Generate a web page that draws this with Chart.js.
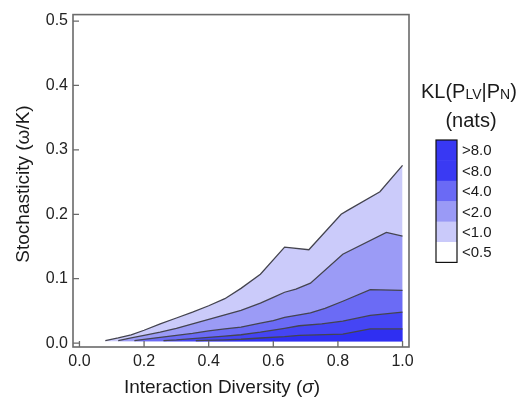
<!DOCTYPE html>
<html><head><meta charset="utf-8">
<script src="https://cdn.jsdelivr.net/npm/chart.js@4"></script>
<style>html,body{margin:0;padding:0;background:#fff}#wrap{width:522px;height:403px;position:relative}</style>
</head><body><div id="wrap"><canvas id="c" width="522" height="403"></canvas></div>
<script>
const xTicks=[0,0.2,0.4,0.6,0.8,1.0];
const yTicks=[0,0.1,0.2,0.3,0.4,0.5];
const levelLabels=['>8.0','<8.0','<4.0','<2.0','<1.0','<0.5'];
const bandColors=['#2f2ff2','#4545f4','#6b6bf5','#9b9bf6','#cbcbfa'];
const legendColors=['#3838f3','#3a3af3','#6a6af5','#9a9af6','#cacafa','#ffffff'];
// contour KL = 0.5
const c05x=[0.08,0.12,0.16,0.2,0.25,0.3,0.35,0.4,0.45,0.5,0.56,0.635,0.71,0.81,0.83,0.93,1.0];
const c05y=[0.004,0.008,0.013,0.02,0.03,0.039,0.048,0.058,0.069,0.085,0.107,0.149,0.145,0.2,0.206,0.235,0.276];
// contour KL = 1
const c1x=[0.12,0.16,0.2,0.25,0.3,0.35,0.4,0.45,0.5,0.56,0.6,0.635,0.67,0.715,0.815,0.95,1.0];
const c1y=[0.004,0.008,0.012,0.017,0.023,0.03,0.037,0.044,0.051,0.062,0.071,0.079,0.084,0.093,0.138,0.172,0.166];
// contour KL = 2
const c2x=[0.17,0.2,0.25,0.3,0.35,0.4,0.45,0.5,0.56,0.6,0.635,0.68,0.715,0.76,0.815,0.9,1.0];
const c2y=[0.004,0.006,0.009,0.012,0.015,0.019,0.022,0.025,0.031,0.035,0.04,0.044,0.047,0.054,0.065,0.083,0.082];
// contour KL = 4
const c4x=[0.26,0.3,0.35,0.4,0.45,0.5,0.56,0.635,0.68,0.75,0.815,0.9,1.0];
const c4y=[0.004,0.005,0.007,0.009,0.011,0.013,0.017,0.023,0.027,0.03,0.034,0.043,0.048];
// contour KL = 8
const c8x=[0.36,0.45,0.5,0.56,0.635,0.68,0.815,0.9,1.0];
const c8y=[0.004,0.005,0.006,0.008,0.01,0.012,0.014,0.022,0.022];
const baseY=0.003;

const pts=(xs,ys)=>xs.map((x,i)=>({x:x,y:ys[i]}));
const contours=[[c8x,c8y],[c4x,c4y],[c2x,c2y],[c1x,c1y],[c05x,c05y]];
const datasets=contours.map((c,i)=>({
  data:pts(c[0],c[1]),
  borderColor:'#44444f',borderWidth:1.3,backgroundColor:bandColors[i],
  fill:{value:baseY},pointRadius:0,tension:0
}));
const FONT='"Liberation Sans", Arial, sans-serif';

const deco={
  id:'deco',
  afterDatasetsDraw(chart){
    const ctx=chart.ctx, a=chart.chartArea, sx=chart.scales.x, sy=chart.scales.y;
    ctx.save();
    ctx.strokeStyle='#6a6a6a';ctx.lineWidth=1.6;
    ctx.strokeRect(a.left,a.top,a.right-a.left,a.bottom-a.top);
    ctx.lineWidth=1.3;
    ctx.beginPath();
    xTicks.forEach(v=>{const p=sx.getPixelForValue(v);ctx.moveTo(p,a.bottom);ctx.lineTo(p,a.bottom-6);});
    yTicks.forEach(v=>{const p=sy.getPixelForValue(v);ctx.moveTo(a.left,p);ctx.lineTo(a.left+6,p);});
    ctx.stroke();
    // axis titles
    ctx.fillStyle='#1a1a1a';
    ctx.textBaseline='middle';
    const parts=[['Interaction Diversity (','normal'],['\u03C3','italic'],[')','normal']];
    let tw=0;parts.forEach(p=>{ctx.font=p[1]+' 19px '+FONT;tw+=ctx.measureText(p[0]).width;});
    let tx=222-tw/2;ctx.textAlign='left';
    parts.forEach(p=>{ctx.font=p[1]+' 19px '+FONT;ctx.fillText(p[0],tx,388);tx+=ctx.measureText(p[0]).width;});
    ctx.font='19px '+FONT;ctx.textAlign='center';
    ctx.save();ctx.translate(24,184);ctx.rotate(-Math.PI/2);
    ctx.fillText('Stochasticity (\u03C9/K)',0,0);ctx.restore();
    // legend title
    ctx.textAlign='left';ctx.textBaseline='alphabetic';
    let x=421;const by=98;
    const seg=[['KL(P',20,0],['LV',14,1],['|P',20,0],['N',14,1],[')',20,0]];
    seg.forEach(s=>{ctx.font=s[1]+'px '+FONT;ctx.fillText(s[0],x,by+s[2]);x+=ctx.measureText(s[0]).width;});
    ctx.font='20px '+FONT;ctx.textAlign='center';
    ctx.fillText('(nats)',471,127);
    // colour bar
    const bx=436,bw=21,top=140,ch=20.4;
    legendColors.forEach((col,i)=>{ctx.fillStyle=col;ctx.fillRect(bx,top+i*ch,bw,ch+0.5);});
    ctx.strokeStyle='#111';ctx.lineWidth=1.2;
    ctx.strokeRect(bx,top,bw,ch*legendColors.length);
    ctx.fillStyle='#1a1a1a';ctx.font='15px '+FONT;ctx.textAlign='left';ctx.textBaseline='middle';
    levelLabels.forEach((t,i)=>ctx.fillText(t,462,top+i*ch+ch/2+1));
    ctx.restore();
  }
};

new Chart(document.getElementById('c'),{
  type:'line',
  data:{datasets:datasets},
  options:{
    responsive:false,animation:false,
    layout:{padding:{top:12,right:113,left:0,bottom:0}},
    plugins:{legend:{display:false},tooltip:{enabled:false}},
    scales:{
      x:{type:'linear',min:-0.02,max:1.02,
        afterBuildTicks:s=>{s.ticks=xTicks.map(v=>({value:v}));},
        afterFit:s=>{s.height=56;},
        grid:{display:false,drawTicks:false},border:{display:false},
        ticks:{padding:5,font:{size:16,family:FONT},color:'#222',maxRotation:0,callback:v=>v.toFixed(1)}},
      y:{type:'linear',min:-0.006,max:0.51,
        afterBuildTicks:s=>{s.ticks=yTicks.map(v=>({value:v}));},
        afterFit:s=>{s.width=73;},
        grid:{display:false,drawTicks:false},border:{display:false},
        ticks:{padding:5,font:{size:16,family:FONT},color:'#222',callback:v=>v.toFixed(1)}}
    }
  },
  plugins:[deco]
});
</script></body></html>
